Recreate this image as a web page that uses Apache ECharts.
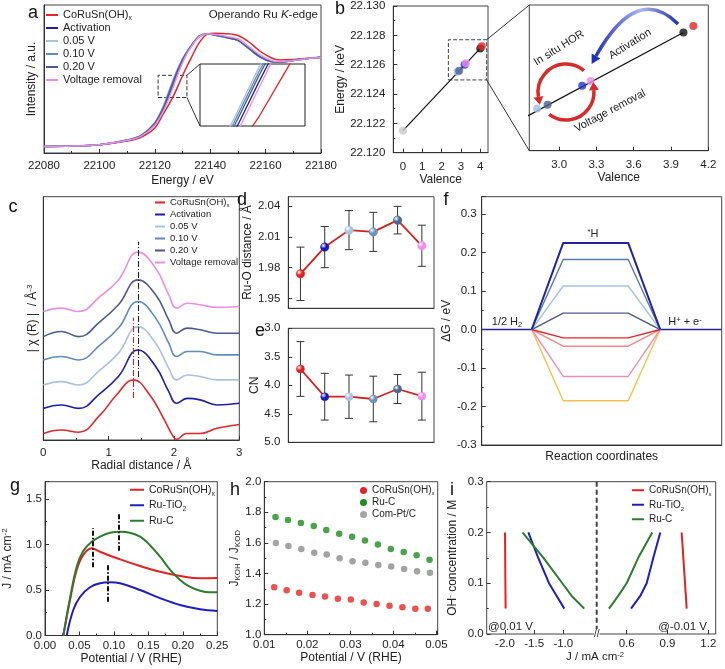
<!DOCTYPE html>
<html><head><meta charset="utf-8">
<script src="https://cdn.jsdelivr.net/npm/echarts@6/dist/echarts.min.js"></script>
<style>html,body{margin:0;padding:0;background:#fff}#c{width:725px;height:669px}</style>
</head><body><div id="c"></div>
<script>
// ================= DATA =================
const stateNames = ['CoRuSn(OH)x','Activation','0.05 V','0.10 V','0.20 V','Voltage removal'];
// (a) operando Ru K-edge XANES
const aEnergy = [22080,22090,22100,22110,22115,22120,22123,22125,22127,22129,22131,22133,22136,22139,22142,22146,22150,22154,22158,22162,22165,22170,22175,22180];
const aCoRuSn = [0.07,0.075,0.09,0.13,0.17,0.27,0.42,0.52,0.633,0.767,0.90,1.02,1.19,1.285,1.295,1.29,1.27,1.20,1.10,1.03,1.005,1.01,1.025,1.035];
const aActivation = [0.07,0.075,0.09,0.135,0.18,0.31,0.48,0.608,0.768,0.92,1.05,1.15,1.26,1.29,1.275,1.25,1.22,1.13,1.04,0.99,0.985,1.0,1.02,1.035];
const a005 = [0.07,0.075,0.09,0.14,0.19,0.33,0.505,0.664,0.824,0.96,1.07,1.16,1.265,1.29,1.27,1.245,1.215,1.125,1.035,0.99,0.985,1.0,1.02,1.035];
const a010 = [0.07,0.075,0.09,0.14,0.19,0.325,0.49,0.648,0.808,0.95,1.065,1.155,1.262,1.29,1.272,1.247,1.217,1.128,1.037,0.99,0.985,1.0,1.02,1.035];
const a020 = [0.07,0.075,0.09,0.138,0.185,0.32,0.475,0.632,0.792,0.94,1.06,1.152,1.26,1.29,1.273,1.248,1.218,1.13,1.04,0.99,0.985,1.0,1.02,1.035];
const aVoltageRemoval = [0.07,0.075,0.09,0.135,0.18,0.30,0.445,0.584,0.744,0.904,1.04,1.14,1.255,1.29,1.28,1.26,1.235,1.15,1.06,1.0,0.99,1.0,1.02,1.035];
const aZoomBox = [22121.2, 0.6, 22131.6, 0.84];
// (b) edge energy vs valence
const bValence = [0, 2.823, 2.907, 3.186, 3.254, 4.00, 4.08];
const bEnergy = [22.1215, 22.12551, 22.12559, 22.12599, 22.12609, 22.12711, 22.12725];
const bFitValence = [0, 4.0];
const bFitEnergy = [22.1215, 22.12711];
const bZoomBox = [2.35, 22.12496, 4.33, 22.1277];
// (c) FT-EXAFS (offset curves)
const cR_CoRuSn = [0,0.28,0.54,0.87,1.12,1.38,1.63,1.84,1.99,2.04,2.19,2.4,2.66,3.0];
const cCoRuSn = [0.27,0.41,0.32,1.03,1.85,2.47,1.85,0.89,0.14,0.03,0.27,0.27,0.48,0.64];
const cR = [0,0.28,0.54,0.87,1.15,1.45,1.72,1.92,2.04,2.2,2.4,2.66,3.0];
const cActivation = [1.30,1.44,1.30,1.92,2.61,3.70,3.02,1.99,1.51,1.71,1.65,1.44,1.51];
const c005 = [2.26,2.40,2.26,2.88,3.57,4.66,3.98,2.95,2.47,2.67,2.61,2.47,2.47];
const c010 = [3.29,3.43,3.29,3.91,4.60,5.69,5.01,3.98,3.43,3.64,3.64,3.50,3.50];
const c020 = [4.25,4.46,4.25,4.87,5.56,6.58,5.97,4.94,4.39,4.60,4.53,4.39,4.39];
const cVoltageRemoval = [5.28,5.42,5.28,5.90,6.58,7.72,7.06,5.97,5.42,5.62,5.56,5.45,5.49];
const cDashR = [1.38, 1.46];
const cDashLo = [1.73, 2.59];
const cDashHi = [5.02, 8.15];
// (d) Ru-O distance, (e) CN
const deIndex = [1,2,3,4,5,6];
const dDistance = [1.974, 2.000, 2.0165, 2.0148, 2.0262, 2.0013];
const dError = [0.026, 0.020, 0.019, 0.019, 0.0134, 0.020];
const eCN = [3.714, 4.20, 4.20, 4.24, 4.065, 4.19];
const eError = [0.48, 0.41, 0.38, 0.40, 0.255, 0.42];
// (f) free-energy diagram
const fBaseLeft = [0, 1];
const fBaseRight = [3.57, 4.8];
const fPath = [1, 1.63, 2.93, 3.57];
const fLevels = [0.225, 0.182, 0.113, 0.0425, -0.0216, -0.0434, -0.122, -0.185];
// (g) HOR polarisation
const gNames = ['CoRuSn(OH)x','Ru-TiO2','Ru-C'];
const gxCoRuSn = [0.0266,0.0363,0.046,0.0556,0.0677,0.0798,0.109,0.138,0.167,0.196,0.225,0.25];
const gCoRuSn = [0,0.39,0.72,0.885,0.958,0.92,0.837,0.764,0.70,0.654,0.628,0.632];
const gxRuTiO2 = [0.0315,0.041,0.051,0.0653,0.0798,0.094,0.109,0.138,0.167,0.196,0.225,0.25];
const gRuTiO2 = [0,0.28,0.426,0.53,0.574,0.585,0.574,0.50,0.41,0.335,0.288,0.27];
const gxRuC = [0.0266,0.0363,0.046,0.0556,0.0677,0.0798,0.0943,0.109,0.123,0.138,0.152,0.167,0.181,0.196,0.21,0.225,0.239,0.25];
const gRuC = [0,0.41,0.756,0.93,1.03,1.086,1.13,1.14,1.13,1.086,0.995,0.866,0.727,0.61,0.536,0.492,0.475,0.475];
const gDashX = [0.070, 0.1064, 0.0904];
const gDashLo = [0.75, 0.93, 0.37];
const gDashHi = [1.18, 1.35, 0.786];
// (h) KIE
const hNames = ['CoRuSn(OH)x','Ru-C','Com-Pt/C'];
const hxCoRuSn = [0.0123,0.0152,0.0181,0.0212,0.0241,0.0271,0.0301,0.0331,0.0361,0.0391,0.0421,0.0451,0.0480];
const hCoRuSn = [1.31,1.29,1.275,1.26,1.25,1.235,1.23,1.21,1.20,1.19,1.18,1.17,1.17];
const hxRuC = [0.0126,0.0155,0.0185,0.0215,0.0244,0.0274,0.0304,0.0334,0.0364,0.0394,0.0424,0.0454,0.0484];
const hRuC = [1.77,1.75,1.73,1.71,1.685,1.66,1.64,1.615,1.59,1.56,1.54,1.52,1.49];
const hxPtC = [0.0127,0.0156,0.0186,0.0216,0.0245,0.0275,0.0305,0.0335,0.0365,0.0395,0.0425,0.0455,0.0485];
const hPtC = [1.60,1.58,1.56,1.535,1.525,1.50,1.48,1.47,1.455,1.445,1.43,1.415,1.405];
// (i) OH- concentration dependence
const iConc = [0.05, 0.075, 0.1, 0.15, 0.2];
const iConcRed = [0.05, 0.2];
const iLeftCoRuSn = [-1.99, -2.0];
const iLeftRuTiO2 = [-0.983,-1.113,-1.245,-1.43,-1.60];
const iLeftRuC = [-0.64,-0.856,-1.017,-1.34,-1.70];
const iRightCoRuSn = [1.041, 1.004];
const iRightRuTiO2 = [0.632,0.70,0.747,0.796,0.847];
const iRightRuC = [0.47,0.538,0.60,0.685,0.788];

// ================= STYLE =================
const FONT = '"Liberation Sans", Arial, Helvetica, sans-serif';
const TXT = '#222';
const AX = '#333';
const stateColors = ['#e3262b','#1e1ea8','#a9c3df','#5f8bbd','#4b5b8c','#ea8fe6'];
const bColors = ['#c9c9c9','#9dbfe6','#4c6193','#1f36d2','#ee8cee','#111111','#e42424'];
const deColors = ['#e02020','#1a1ab8','#a8c4e0','#6a94c0','#4a6894','#f08ef0'];
const fColors = ['#23239b','#5a78ad','#a9c3df','#4b5a86','#e02a2a','#f08a8a','#e891b6','#f2c24a'];
const gColors = ['#e32222','#1f1fbf','#2e7d2e'];
const hColors = ['#e52626','#1c8c1c','#8c8c8c'];

function merge(a, b) {
  const o = Object.assign({}, a);
  for (const k in b) {
    const v = b[k];
    if (v && typeof v === 'object' && !Array.isArray(v) && !v.colorStops && a[k] && typeof a[k] === 'object' && !Array.isArray(a[k])) o[k] = merge(a[k], v);
    else o[k] = v;
  }
  return o;
}
const RICH = {
  n: {fontSize: 12, fontFamily: FONT, color: TXT, lineHeight: 14},
  sup: {fontSize: 8, fontFamily: FONT, color: TXT, lineHeight: 8, verticalAlign: 'top'},
  sub: {fontSize: 8, fontFamily: FONT, color: TXT, lineHeight: 8, verticalAlign: 'bottom'}
};
function axis(gi, o) {
  return merge({
    type: 'value', gridIndex: gi, nameLocation: 'middle',
    axisLine: {show: true, onZero: false, lineStyle: {color: AX, width: 1}},
    axisTick: {show: true, inside: true, length: 4, lineStyle: {color: AX}},
    minorTick: {show: false, splitNumber: 2, length: 2, lineStyle: {color: AX}},
    splitLine: {show: false},
    axisLabel: {show: true, color: TXT, fontSize: 11.5, fontFamily: FONT, margin: 6},
    nameTextStyle: {color: TXT, fontSize: 12, fontFamily: FONT, rich: RICH}
  }, o || {});
}
const hidden = (gi, min, max) => ({type: 'value', gridIndex: gi, min, max, show: false});
const fx0 = v => String(v), fx1 = v => v.toFixed(1), fx2 = v => v.toFixed(2), fx3 = v => v.toFixed(3);
const zip = (xs, ys) => xs.map((x, i) => [x, ys[i]]);
function lineS(name, gi, xs, ys, color, o) {
  return merge({type: 'line', name, xAxisIndex: gi, yAxisIndex: gi, data: zip(xs, ys), symbol: 'none', showSymbol: false,
    lineStyle: {color, width: 1.6}, itemStyle: {color}, silent: true, z: 3}, o || {});
}
function sphere(c) {
  return {type: 'radial', x: 0.35, y: 0.32, r: 0.75, colorStops: [{offset: 0, color: '#ffffff'}, {offset: 0.45, color: c}, {offset: 1, color: c}]};
}
function errSeries(gi, xs, vals, errs) {
  return {type: 'custom', xAxisIndex: gi, yAxisIndex: gi, z: 2, silent: true, clip: false,
    data: xs.map((x, i) => [x, vals[i] - errs[i], vals[i] + errs[i]]),
    encode: {x: 0, y: [1, 2]},
    renderItem(params, api) {
      const x = api.value(0);
      const lo = api.coord([x, api.value(1)]), hi = api.coord([x, api.value(2)]);
      const w = 4, st = {stroke: '#333', lineWidth: 1};
      return {type: 'group', children: [
        {type: 'line', shape: {x1: lo[0], y1: lo[1], x2: hi[0], y2: hi[1]}, style: st},
        {type: 'line', shape: {x1: lo[0] - w, y1: lo[1], x2: lo[0] + w, y2: lo[1]}, style: st},
        {type: 'line', shape: {x1: hi[0] - w, y1: hi[1], x2: hi[0] + w, y2: hi[1]}, style: st}
      ]};
    }};
}
function richName(name) {
  if (name === 'CoRuSn(OH)x') return '{n|CoRuSn(OH)}{s|x}';
  if (name === 'Ru-TiO2') return '{n|Ru-TiO}{s|2}';
  return '{n|' + name + '}';
}
function legend(names, colors, fs, lh, o) {
  return merge({
    orient: 'vertical', selectedMode: false, itemGap: 0, padding: 0,
    icon: 'rect', itemWidth: 12, itemHeight: 2,
    itemStyle: {borderWidth: 0},
    textStyle: {fontFamily: FONT, fontSize: fs, color: TXT, lineHeight: lh, rich: {
      n: {fontSize: fs, fontFamily: FONT, color: TXT, lineHeight: lh},
      s: {fontSize: Math.round(fs * 0.62), fontFamily: FONT, color: TXT, lineHeight: lh * 0.6, verticalAlign: 'bottom'}
    }},
    formatter: richName,
    data: names.map((n, i) => ({name: n, itemStyle: {color: colors[i], borderWidth: 0}}))
  }, o);
}
const G = {show: true, borderColor: '#444', borderWidth: 1, backgroundColor: 'transparent'};

// ================= OPTION =================
const aSets = [aCoRuSn, aActivation, a005, a010, a020, aVoltageRemoval];
const cSets = [[cR_CoRuSn, cCoRuSn], [cR, cActivation], [cR, c005], [cR, c010], [cR, c020], [cR, cVoltageRemoval]];
const series = [];
// a main + inset
aSets.forEach((ys, k) => {
  const s = lineS(stateNames[k], 0, aEnergy, ys, stateColors[k], {smooth: 0.3, lineStyle: {width: 1.5}});
  if (k === 0) s.markArea = {silent: true, itemStyle: {color: 'rgba(0,0,0,0)', borderColor: '#333', borderWidth: 1, borderType: 'dashed'},
    data: [[{coord: [aZoomBox[0], aZoomBox[1]]}, {coord: [aZoomBox[2], aZoomBox[3]]}]]};
  series.push(s);
});
aSets.forEach((ys, k) => series.push(lineS(stateNames[k], 1, aEnergy, ys, stateColors[k], {lineStyle: {width: 1.3}, clip: true})));
// b main + inset
[2, 3].forEach(gi => {
  const l = lineS('fit', gi, bFitValence, bFitEnergy, '#111', {lineStyle: {width: 1.2}, clip: true, z: 2});
  if (gi === 2) l.markArea = {silent: true, itemStyle: {color: 'rgba(0,0,0,0)', borderColor: '#444', borderWidth: 1, borderType: 'dashed'},
    data: [[{coord: [bZoomBox[0], bZoomBox[1]]}, {coord: [bZoomBox[2], bZoomBox[3]]}]]};
  series.push(l);
  series.push({type: 'scatter', xAxisIndex: gi, yAxisIndex: gi, symbolSize: 8, clip: true, z: 4, silent: true,
    data: bValence.map((v, i) => ({value: [v, bEnergy[i]], itemStyle: {color: bColors[i]}}))});
});
// c
cSets.forEach((p, k) => {
  const s = lineS(stateNames[k], 4, p[0], p[1], stateColors[k], {smooth: 0.45, lineStyle: {width: 1.6}});
  if (k === 0 || k === 1) {
    const j = k;
    s.markLine = {silent: true, symbol: ['none', 'none'], label: {show: false},
      lineStyle: {color: j === 0 ? '#e02020' : '#222', width: 1.1, type: [6, 2, 1, 2]},
      data: [[{coord: [cDashR[j], cDashLo[j]]}, {coord: [cDashR[j], cDashHi[j]]}]]};
  }
  series.push(s);
});
// d, e
[[5, dDistance, dError, 8.5], [6, eCN, eError, 8]].forEach(([gi, vals, errs, sz]) => {
  series.push(errSeries(gi, deIndex, vals, errs));
  series.push({type: 'line', xAxisIndex: gi, yAxisIndex: gi, z: 4, silent: true, symbol: 'circle', symbolSize: sz,
    lineStyle: {color: '#d42020', width: 1.8},
    data: deIndex.map((x, i) => ({value: [x, vals[i]], itemStyle: {color: sphere(deColors[i]), borderColor: deColors[i], borderWidth: 0.5}}))});
});
// f
series.push(lineS('base-l', 7, fBaseLeft, [0, 0], '#23239b', {lineStyle: {width: 1.6}}));
series.push(lineS('base-r', 7, fBaseRight, [0, 0], '#23239b', {lineStyle: {width: 1.6}}));
fLevels.slice().reverse().forEach((L, r) => {
  const k = fLevels.length - 1 - r;
  series.push(lineS('level' + k, 7, fPath, [0, L, L, 0], fColors[k], {lineStyle: {width: k === 0 ? 2 : 1.4}}));
});
// g
[[gxCoRuSn, gCoRuSn], [gxRuTiO2, gRuTiO2], [gxRuC, gRuC]].forEach((p, k) => {
  const s = lineS(gNames[k], 8, p[0], p[1], gColors[k], {smooth: 0.4, lineStyle: {width: 2}});
  if (k === 0) s.markLine = {silent: true, symbol: ['none', 'none'], label: {show: false},
    lineStyle: {color: '#111', width: 2, type: [5, 2, 1.5, 2]},
    data: gDashX.map((x, i) => [{coord: [x, gDashLo[i]]}, {coord: [x, gDashHi[i]]}])};
  series.push(s);
});
// h
[[hxCoRuSn, hCoRuSn], [hxRuC, hRuC], [hxPtC, hPtC]].forEach((p, k) => {
  series.push({type: 'scatter', name: hNames[k], xAxisIndex: 9, yAxisIndex: 9, symbolSize: 6.5, silent: true,
    itemStyle: {color: hColors[k]}, data: zip(p[0], p[1])});
});
// i
series.push(lineS('CoRuSn(OH)x', 11, iLeftCoRuSn, iConcRed, gColors[0], {lineStyle: {width: 2}}));
series.push(lineS('Ru-TiO2', 11, iLeftRuTiO2, iConc, gColors[1], {lineStyle: {width: 2}}));
series.push(lineS('Ru-C', 11, iLeftRuC, iConc, gColors[2], {lineStyle: {width: 2}}));
series.push(lineS('CoRuSn(OH)x', 12, iRightCoRuSn, iConcRed, gColors[0], {lineStyle: {width: 2}}));
series.push(lineS('Ru-TiO2', 12, iRightRuTiO2, iConc, gColors[1], {lineStyle: {width: 2}}));
series.push(lineS('Ru-C', 12, iRightRuC, iConc, gColors[2], {lineStyle: {width: 2}}));

const option = {
  animation: false,
  backgroundColor: '#ffffff',
  textStyle: {fontFamily: FONT},
  grid: [
    merge(G, {left: 44, top: 5, width: 277, height: 148}),
    merge(G, {left: 200, top: 64, width: 105, height: 62, borderColor: '#222'}),
    merge(G, {left: 393.3, top: 6, width: 94.7, height: 146.7}),
    merge(G, {left: 529.3, top: 5, width: 179, height: 145.7}),
    merge(G, {left: 43.3, top: 196.7, width: 196, height: 243.3}),
    merge(G, {left: 288.3, top: 196.7, width: 145.7, height: 111.6}),
    merge(G, {left: 288.3, top: 328.3, width: 145.7, height: 114}),
    merge(G, {left: 481.7, top: 196.7, width: 240, height: 248.3}),
    merge(G, {left: 45, top: 481.7, width: 172.3, height: 153.8}),
    merge(G, {left: 264.3, top: 481.7, width: 173.4, height: 153}),
    merge(G, {left: 486.7, top: 481.7, width: 229, height: 152.3}),
    {left: 486.7, top: 481.7, width: 110, height: 152.3, show: false},
    {left: 596.7, top: 481.7, width: 119, height: 152.3, show: false}
  ],
  xAxis: [
    axis(0, {min: 22080, max: 22180, interval: 20, minorTick: {show: true}, axisLabel: {formatter: fx0, margin: 7}, name: 'Energy / eV', nameGap: 22}),
    hidden(1, aZoomBox[0], aZoomBox[2]),
    axis(2, {min: -0.5, max: 4.4, axisLabel: {customValues: [0, 1, 2, 3, 4], margin: 8}, axisTick: {customValues: [0, 1, 2, 3, 4]}, name: 'Valence', nameGap: 19}),
    axis(3, {min: 2.76, max: 4.2, axisLabel: {customValues: [3.0, 3.3, 3.6, 3.9, 4.2], formatter: fx1, margin: 8}, axisTick: {customValues: [3.0, 3.3, 3.6, 3.9, 4.2]}, name: 'Valence', nameGap: 19}),
    axis(4, {min: 0, max: 3, interval: 1, minorTick: {show: true}, axisLabel: {margin: 7}, name: 'Radial distance / Å', nameGap: 16}),
    axis(5, {min: 0.5, max: 6.5, axisTick: {show: false}, axisLabel: {show: false}}),
    axis(6, {min: 0.5, max: 6.5, axisTick: {show: false}, axisLabel: {show: false}}),
    axis(7, {min: 0, max: 4.8, axisTick: {show: false}, axisLabel: {show: false}, name: 'Reaction coordinates', nameGap: 6}),
    axis(8, {min: 0, max: 0.25, interval: 0.05, minorTick: {show: true}, axisLabel: {formatter: fx2, margin: 4}, name: 'Potential / V (RHE)', nameGap: 17}),
    axis(9, {min: 0.01, max: 0.0503, interval: 0.01, minorTick: {show: true}, axisLabel: {formatter: fx2, margin: 4, showMaxLabel: false}, name: 'Potential / V (RHE)', nameGap: 17}),
    hidden(10, 0, 1),
    axis(11, {min: -2.314, max: -0.427, axisLine: {show: false}, axisLabel: {customValues: [-2, -1.5, -1], formatter: fx1, margin: 4}, axisTick: {customValues: [-2, -1.5, -1]}}),
    axis(12, {min: 0.38, max: 1.254, axisLine: {show: false}, axisLabel: {customValues: [0.6, 0.9, 1.2], formatter: fx1, margin: 4}, axisTick: {customValues: [0.6, 0.9, 1.2]}})
  ],
  yAxis: [
    axis(0, {min: 0, max: 1.6, axisTick: {show: false}, axisLabel: {show: false}, name: 'Intensity / a.u.', nameGap: 6}),
    hidden(1, aZoomBox[1], aZoomBox[3]),
    axis(2, {min: 22.12, max: 22.13, interval: 0.002, minorTick: {show: true}, axisLabel: {formatter: fx3, margin: 8}, name: 'Energy / keV', nameGap: 46}),
    hidden(3, 22.12462, 22.12769),
    axis(4, {min: 0, max: 10, axisTick: {show: false}, axisLabel: {show: false}, name: '{n|| χ (R) |  / Å}{sup|-3}', nameGap: 4}),
    axis(5, {min: 1.9405, max: 2.049, axisLabel: {customValues: [1.95, 1.98, 2.01, 2.04], formatter: fx2, margin: 8}, axisTick: {customValues: [1.95, 1.98, 2.01, 2.04]}, name: 'Ru-O distance / Å', nameGap: 30}),
    axis(6, {min: 3, max: 5, inverse: true, interval: 0.5, axisLabel: {formatter: fx1, margin: 8}, name: 'CN', nameGap: 21}),
    axis(7, {min: -0.3, max: 0.345, interval: 0.1, minorTick: {show: true}, axisLabel: {formatter: fx1, margin: 5, showMaxLabel: false}, name: 'ΔG / eV', nameGap: 25}),
    axis(8, {min: 0, max: 1.69, interval: 0.5, minorTick: {show: true}, axisLabel: {formatter: fx1, margin: 3, showMaxLabel: false}, name: '{n|J / mA cm}{sup|-2}', nameGap: 30}),
    axis(9, {min: 1, max: 2, interval: 0.2, minorTick: {show: true}, axisLabel: {formatter: fx1, margin: 3}, name: '{n|J}{sub|KOH}{n| / J}{sub|KOD}', nameGap: 18}),
    hidden(10, 0, 1),
    axis(11, {min: 0, max: 0.3, interval: 0.1, axisLine: {show: false}, minorTick: {show: true}, axisLabel: {formatter: fx1, margin: 3}, name: '{n|OH}{sup|-}{n| concentration / M}', nameGap: 27}),
    hidden(12, 0, 0.3)
  ],
  legend: [
    legend(stateNames, stateColors, 11, 13, {left: 46, top: 8.5, itemWidth: 12}),
    legend(stateNames, stateColors, 9.5, 12, {left: 155, top: 196.5, itemWidth: 10}),
    legend(gNames, gColors, 10.5, 15.5, {left: 130, top: 482, itemWidth: 14}),
    legend(hNames, hColors, 10, 12, {left: 360, top: 484.5, icon: 'circle', itemWidth: 7, itemHeight: 7}),
    legend(gNames, gColors, 10, 14.5, {left: 632, top: 483, itemWidth: 12})
  ],
  series
};

const chart = echarts.init(document.getElementById('c'), null, {renderer: 'canvas'});
chart.setOption(option);

// ================= ANNOTATIONS =================
const px = (gi, v) => chart.convertToPixel({gridIndex: gi}, v);
const els = [];
const T = (x, y, text, o, el) => Object.assign({type: 'text', x, y, silent: true, z: 50, style: merge({text, fill: TXT, fontFamily: FONT, fontSize: 11, align: 'center', verticalAlign: 'middle',
  rich: {n: {fontSize: 11, fontFamily: FONT, fill: TXT, lineHeight: 13}, sup: {fontSize: 7.5, fontFamily: FONT, fill: TXT, lineHeight: 7, verticalAlign: 'top'},
         sub: {fontSize: 7.5, fontFamily: FONT, fill: TXT, lineHeight: 7, verticalAlign: 'bottom'}, i: {fontSize: 11.5, fontFamily: FONT, fill: TXT, fontStyle: 'italic', lineHeight: 13},
         m: {fontSize: 11.5, fontFamily: FONT, fill: TXT, lineHeight: 13}}}, o || {})}, el || {});
const L = (p, q, o) => ({type: 'line', silent: true, z: 40, shape: {x1: p[0], y1: p[1], x2: q[0], y2: q[1]}, style: merge({stroke: '#333', lineWidth: 1}, o || {})});
// panel letters
[['a', 33, 13], ['b', 340, 9], ['c', 13, 207], ['d', 242, 200], ['e', 260, 331], ['f', 446, 200], ['g', 15, 486], ['h', 235, 490], ['i', 452, 490]]
  .forEach(([t, x, y]) => els.push(T(x, y, t, {fontSize: 18, fill: '#111'})));
els.push(T(318, 15, '{m|Operando Ru }{i|K}{m|-edge}', {align: 'right'}));
// zoom connectors (a)
els.push(L(px(0, [aZoomBox[2], aZoomBox[3]]), px(1, [aZoomBox[0], aZoomBox[3]])));
els.push(L(px(0, [aZoomBox[2], aZoomBox[1]]), px(1, [aZoomBox[0], aZoomBox[1]])));
// zoom connectors (b)
const bInTop = option.yAxis[3].max, bInBot = option.yAxis[3].min, bInLeft = option.xAxis[3].min;
els.push(L(px(2, [bZoomBox[2], bZoomBox[3]]), px(3, [bInLeft, bInTop])));
els.push(L(px(2, [bZoomBox[2], bZoomBox[1]]), px(3, [bInLeft, bInBot])));
// b inset arrows
function head(end, dir, len, hw, color) {
  const t = [end[0] + dir[0] * len, end[1] + dir[1] * len];
  const pp = [-dir[1], dir[0]];
  return {type: 'polygon', silent: true, z: 41, shape: {points: [t, [end[0] + pp[0] * hw, end[1] + pp[1] * hw], [end[0] - pp[0] * hw, end[1] - pp[1] * hw]]}, style: {fill: color}};
}
els.push({type: 'bezierCurve', silent: true, z: 40, shape: {x1: 678, y1: 24, cpx1: 637, cpy1: -17, x2: 596, y2: 56},
  style: {fill: 'none', lineWidth: 3.5, stroke: {type: 'linear', x: 0, y: 0, x2: 1, y2: 0, colorStops: [{offset: 0, color: '#1f2fb8'}, {offset: 0.55, color: '#a8b8f0'}, {offset: 1, color: '#1a28a8'}]}}});
els.push(head([596, 56], [-0.485, 0.875], 9, 5, '#1f2fb8'));
const rc = [566, 92], rr = 28, deg = Math.PI / 180;
els.push({type: 'arc', silent: true, z: 40, shape: {cx: rc[0], cy: rc[1], r: rr, startAngle: -50 * deg, endAngle: 170 * deg, clockwise: false}, style: {fill: 'none', stroke: '#d42b2b', lineWidth: 3.5}});
els.push(head([rc[0] + rr * Math.cos(170 * deg), rc[1] + rr * Math.sin(170 * deg)], [Math.sin(170 * deg), -Math.cos(170 * deg)], 8, 5, '#d42b2b'));
els.push({type: 'arc', silent: true, z: 40, shape: {cx: rc[0], cy: rc[1], r: rr, startAngle: 127 * deg, endAngle: -4 * deg, clockwise: false}, style: {fill: 'none', stroke: '#d42b2b', lineWidth: 3.5}});
els.push(head([rc[0] + rr * Math.cos(-4 * deg), rc[1] + rr * Math.sin(-4 * deg)], [Math.sin(-4 * deg), -Math.cos(-4 * deg)], 8, 5, '#d42b2b'));
els.push(T(559, 48, 'In situ HOR', {}, {rotation: 0.56}));
els.push(T(630, 44, 'Activation', {}, {rotation: 0.56}));
els.push(T(610, 111, 'Voltage removal', {}, {rotation: 0.49}));
// f labels
els.push(T(593, 234, '{sup|*}{n|H}'));
els.push(T(507, 322, '{n|1/2 H}{sub|2}'));
els.push(T(685, 322, '{n|H}{sup|+}{n| + e}{sup|-}'));
// i decorations
const iTop = px(11, [option.xAxis[11].max, 0.3]), iBot = px(11, [option.xAxis[11].max, 0]);
els.push(L(iTop, iBot, {stroke: '#444', lineWidth: 2, lineDash: [5, 3]}));
els.push(T(iBot[0], iBot[1], '//', {fontSize: 10, backgroundColor: '#fff'}));
els.push(T(488, 627, '@0.01 V', {align: 'left', fontSize: 11.5}));
els.push(T(707, 627, '@-0.01 V', {align: 'right', fontSize: 11.5}));
els.push(T(595, 657, '{m|J / mA cm}{sup|-2}', {}));
chart.setOption({graphic: {elements: els}});
</script>
</body></html>
